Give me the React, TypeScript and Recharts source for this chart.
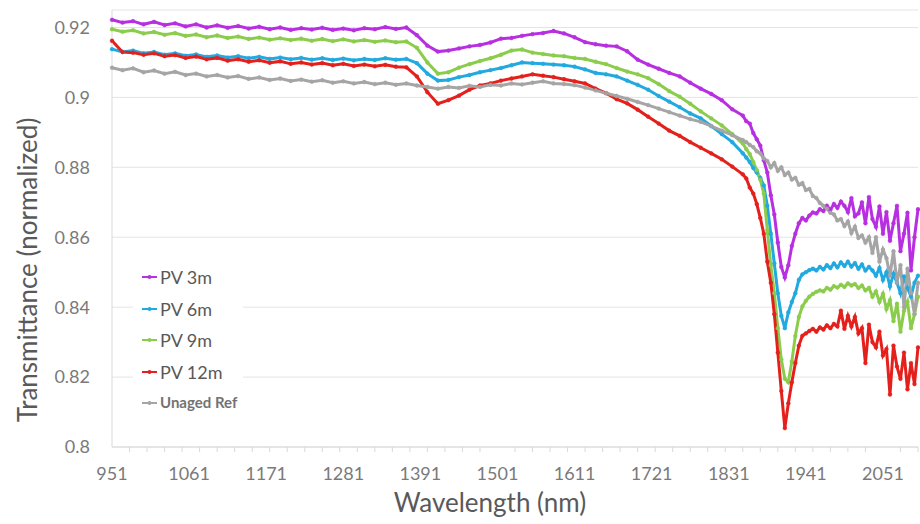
import React from 'react'
import { LineChart, Line, XAxis, YAxis, CartesianGrid } from 'recharts'

/* wavelength grid (nm): 15 nm steps on the flat part, 5 nm through the water band */
const WAVELENGTHS = [
  951, 966, 981, 996, 1011, 1026, 1041, 1056, 1071, 1086, 1101, 1116, 1131, 1146, 1161, 1176,
  1191, 1206, 1221, 1236, 1251, 1266, 1281, 1296, 1311, 1326, 1341, 1356, 1371, 1386, 1401, 1416,
  1431, 1446, 1461, 1476, 1491, 1506, 1521, 1536, 1551, 1566, 1581, 1596, 1611, 1626, 1641, 1656,
  1671, 1686, 1701, 1716, 1731, 1746, 1761, 1776, 1791, 1806, 1821, 1836, 1851,
  1856, 1861, 1866, 1871, 1876, 1881, 1886, 1891, 1896, 1901, 1906, 1911, 1916, 1921, 1926, 1931,
  1936, 1941, 1946, 1951, 1956, 1961, 1966, 1971, 1976, 1981, 1986, 1991, 1996, 2001, 2006, 2011,
  2016, 2021, 2026, 2031, 2036, 2041, 2046, 2051, 2056, 2061, 2066, 2071, 2076, 2081, 2086, 2091,
  2096, 2101,
]

const PV_3M = [
  0.9222, 0.9214, 0.9218, 0.9209, 0.9216, 0.9207, 0.9212, 0.9203, 0.9209, 0.92, 0.9206, 0.9199, 0.9204, 0.9197, 0.9202, 0.9195,
  0.92, 0.9193, 0.9198, 0.9194, 0.9199, 0.9193, 0.9197, 0.9192, 0.9198, 0.9195, 0.9201, 0.9196, 0.92, 0.9178, 0.9148, 0.9131,
  0.9134, 0.914, 0.9146, 0.915, 0.9157, 0.9168, 0.917, 0.9176, 0.9181, 0.9184, 0.919, 0.9183, 0.9172, 0.9158, 0.9152, 0.9148,
  0.9146, 0.9132, 0.9108, 0.9094, 0.9082, 0.907, 0.906, 0.9042, 0.9025, 0.901, 0.8992, 0.8966, 0.8948,
  0.8932, 0.8925, 0.8898, 0.888, 0.8862, 0.882, 0.8785, 0.872, 0.8665, 0.8585, 0.8515, 0.8485, 0.852, 0.8575, 0.861, 0.864,
  0.8655, 0.8648, 0.8662, 0.8671, 0.8668, 0.868, 0.8675, 0.869, 0.8678, 0.8695, 0.8684, 0.8702, 0.869, 0.8672, 0.8712, 0.866,
  0.8668, 0.87, 0.864, 0.8715, 0.8652, 0.863, 0.8688, 0.861, 0.8672, 0.859, 0.864, 0.869, 0.856, 0.861, 0.867, 0.8505,
  0.86, 0.868,
]

const PV_6M = [
  0.9138, 0.913, 0.9134, 0.9126, 0.913, 0.9122, 0.9126, 0.9119, 0.9123, 0.9116, 0.912, 0.9114, 0.9118, 0.9112, 0.9116, 0.911,
  0.9114, 0.9109, 0.9113, 0.9108, 0.9112, 0.9107, 0.9111, 0.9106, 0.911, 0.9107, 0.9112, 0.9108, 0.911, 0.9098, 0.9068, 0.9048,
  0.905, 0.9058, 0.9064, 0.9072, 0.9078, 0.9084, 0.9092, 0.91, 0.9098, 0.9096, 0.9094, 0.9092, 0.9088, 0.908, 0.907, 0.9066,
  0.906, 0.9048, 0.9036, 0.9022, 0.9004, 0.8988, 0.8972, 0.8954, 0.894, 0.8918, 0.8895, 0.8872, 0.884,
  0.8828, 0.8815, 0.8798, 0.8785, 0.877, 0.8748, 0.869, 0.861, 0.8525, 0.844, 0.8375, 0.834, 0.8385, 0.8415, 0.844, 0.8478,
  0.8494, 0.85, 0.8506, 0.851, 0.8505, 0.8515, 0.8508, 0.852, 0.8512, 0.8525, 0.8514, 0.8528, 0.8518, 0.853, 0.8516, 0.8526,
  0.851, 0.8522, 0.8505, 0.8515, 0.8505, 0.849, 0.8512, 0.8478, 0.85, 0.846, 0.8495, 0.847, 0.844, 0.8488, 0.8455, 0.843,
  0.847, 0.849,
]

const PV_9M = [
  0.9195, 0.9188, 0.9192, 0.9183, 0.9187, 0.9179, 0.9184, 0.9176, 0.918, 0.9172, 0.9177, 0.917, 0.9174, 0.9167, 0.9171, 0.9165,
  0.9169, 0.9164, 0.9168, 0.9162, 0.9167, 0.9161, 0.9166, 0.916, 0.9164, 0.9159, 0.9163, 0.9158, 0.916, 0.9142, 0.91, 0.9068,
  0.9072, 0.9085, 0.9095, 0.9104, 0.9112, 0.9122, 0.9134, 0.9137, 0.9128, 0.9124, 0.912, 0.9118, 0.9113, 0.911, 0.9102, 0.9095,
  0.9084, 0.9074, 0.9066, 0.9055, 0.9038, 0.9018, 0.9002, 0.8982, 0.896, 0.894, 0.892, 0.8895, 0.8868,
  0.8852, 0.8838, 0.8815, 0.8792, 0.8765, 0.8725, 0.862, 0.852, 0.844, 0.834, 0.825, 0.8195, 0.8185, 0.8245, 0.8318, 0.8372,
  0.8402, 0.8418, 0.843, 0.8438, 0.8444, 0.8448, 0.8445, 0.8455, 0.845, 0.846, 0.8456, 0.8464, 0.8458, 0.8468, 0.8462, 0.8466,
  0.8455, 0.8462, 0.8448, 0.8455, 0.843, 0.8445, 0.8415, 0.8438, 0.8395, 0.842, 0.836, 0.841, 0.833, 0.839, 0.8415, 0.834,
  0.838, 0.843,
]

const PV_12M = [
  0.9162, 0.913, 0.9128, 0.9122, 0.9126, 0.9118, 0.9121, 0.9113, 0.9117, 0.9109, 0.9113, 0.9105, 0.9109, 0.9102, 0.9106, 0.9099,
  0.9103, 0.9096, 0.91, 0.9094, 0.9098, 0.9092, 0.9096, 0.909, 0.9094, 0.9089, 0.9093, 0.9088, 0.9086, 0.906, 0.9015, 0.8982,
  0.8992, 0.9005, 0.9022, 0.9034, 0.904, 0.9048, 0.9054, 0.906, 0.9066, 0.9062, 0.9058, 0.9052, 0.9046, 0.904, 0.9025, 0.9012,
  0.8995, 0.8983, 0.8965, 0.8945, 0.8925, 0.8905, 0.889, 0.8872, 0.8856, 0.884, 0.8823, 0.8802, 0.878,
  0.8768, 0.8742, 0.8725, 0.8695, 0.8655, 0.861, 0.853, 0.847, 0.838, 0.827, 0.816, 0.8054, 0.8125, 0.8185, 0.824, 0.829,
  0.8318, 0.8325, 0.8332, 0.8338, 0.833, 0.8342, 0.8336, 0.8348, 0.834, 0.8352, 0.8345, 0.839, 0.8338, 0.8375, 0.8345, 0.8372,
  0.8325, 0.834, 0.824, 0.835, 0.83, 0.8285, 0.833, 0.8262, 0.828, 0.815, 0.829, 0.823, 0.8195, 0.827, 0.8165, 0.824,
  0.818, 0.8285,
]

const UNAGED_REF = [
  0.9085, 0.9078, 0.9083, 0.9072, 0.9077, 0.9068, 0.9073, 0.9064, 0.9068, 0.906, 0.9064, 0.9057, 0.9061, 0.9053, 0.9057, 0.905,
  0.9054, 0.9047, 0.9051, 0.9045, 0.9049, 0.9042, 0.9046, 0.904, 0.9044, 0.9038, 0.9042, 0.9036, 0.904, 0.9034, 0.903, 0.9025,
  0.903, 0.9027, 0.9033, 0.903, 0.9036, 0.9034, 0.904, 0.9037, 0.9042, 0.9046, 0.904, 0.9038, 0.9035, 0.9028, 0.902, 0.9012,
  0.9004, 0.8996, 0.8987, 0.8978, 0.8968, 0.8958, 0.8948, 0.8938, 0.893, 0.8918, 0.8905, 0.8892, 0.8878,
  0.8872, 0.8864, 0.8858, 0.8846, 0.884, 0.8825, 0.8818, 0.88, 0.8812, 0.879, 0.88, 0.8778, 0.8785, 0.8765, 0.877, 0.875,
  0.8755, 0.8735, 0.8738, 0.8718, 0.8712, 0.8698, 0.869, 0.8682, 0.867, 0.8665, 0.8648, 0.8652, 0.8632, 0.8645, 0.8612, 0.863,
  0.8598, 0.8605, 0.8585, 0.86, 0.8555, 0.86, 0.853, 0.8565, 0.854, 0.849, 0.856, 0.847, 0.852, 0.84, 0.851, 0.844,
  0.838, 0.847,
]

const SERIES = [
  { key: 'pv3', name: 'PV 3m', color: '#b72fe0', values: PV_3M },
  { key: 'pv6', name: 'PV 6m', color: '#22a9df', values: PV_6M },
  { key: 'pv9', name: 'PV 9m', color: '#8ccc4c', values: PV_9M },
  { key: 'pv12', name: 'PV 12m', color: '#e4201c', values: PV_12M },
  { key: 'ref', name: 'Unaged Ref', color: '#a5a5a5', values: UNAGED_REF },
]

const X_LABELS = [951, 1061, 1171, 1281, 1391, 1501, 1611, 1721, 1831, 1941, 2051]
const Y_TICKS = [0.8, 0.82, 0.84, 0.86, 0.88, 0.9, 0.92]

// minor tick marks every 25 nm (Excel tick-mark interval), labels every 110 nm
const X_MINOR = Array.from({ length: 47 }, (_, i) => 951 + 25 * i)
const X_TICKS = Array.from(new Set([...X_MINOR, ...X_LABELS])).sort((a, b) => a - b)

const data = WAVELENGTHS.map((w, i) => {
  const row: Record<string, number> = { w }
  SERIES.forEach(s => { row[s.key] = s.values[i] })
  return row
})

const FONT = 'Lato, "Open Sans", sans-serif'
const AXIS_GRAY = '#d9d9d9'
const TICK_TEXT = '#7a7a7a'
const TITLE_TEXT = '#595959'

function XTick(props: any) {
  const { x, y, payload } = props
  const v = payload.value
  if (X_LABELS.includes(v)) {
    return (
      <text x={x} y={y + 33} textAnchor="middle" fontSize={18} fill={TICK_TEXT} fontFamily={FONT}>
        {v}
      </text>
    )
  }
  return <line x1={x} x2={x} y1={y} y2={y + 5} stroke={AXIS_GRAY} strokeWidth={1} />
}

export default function App() {
  return (
    <div style={{ position: 'absolute', left: 0, top: 0, width: 920, height: 524, background: '#fff', fontFamily: FONT }}>
      <LineChart width={920} height={524} data={data} margin={{ top: 10, right: 2, left: 0, bottom: 0 }}>
        <CartesianGrid vertical={false} stroke="#e4e4e4" />
        <XAxis
          dataKey="w"
          type="number"
          domain={[951, 2101]}
          ticks={X_TICKS}
          interval={0}
          height={77}
          tickSize={0}
          tickMargin={0}
          tickLine={false}
          axisLine={{ stroke: AXIS_GRAY }}
          tick={<XTick />}
        />
        <YAxis
          type="number"
          domain={[0.8, 0.925]}
          ticks={Y_TICKS}
          width={112}
          tickSize={0}
          tickMargin={22}
          tickLine={false}
          axisLine={{ stroke: AXIS_GRAY }}
          tick={{ fontSize: 18, fill: TICK_TEXT, fontFamily: FONT }}
          allowDataOverflow
        />
        {SERIES.map(s => (
          <Line
            key={s.key}
            dataKey={s.key}
            name={s.name}
            stroke={s.color}
            strokeWidth={3}
            dot={{ r: 1.9, fill: s.color, stroke: s.color, strokeWidth: 0.5 }}
            type="linear"
            isAnimationActive={false}
          />
        ))}
      </LineChart>

      <svg width={920} height={524} style={{ position: 'absolute', left: 0, top: 0, pointerEvents: 'none' }}>
        <text x={490} y={512} textAnchor="middle" fontSize={26} fill={TITLE_TEXT} fontFamily={FONT}>
          Wavelength (nm)
        </text>
        <text transform="translate(37,270) rotate(-90)" textAnchor="middle" fontSize={26} fill={TITLE_TEXT} fontFamily={FONT}>
          Transmittance (normalized)
        </text>

        {/* legend */}
        <rect x={133} y={252} width={110} height={165} fill="#fff" />
        {SERIES.map((s, i) => {
          const cy = [277, 309, 340, 372, 403][i]
          const last = i === SERIES.length - 1
          return (
            <g key={s.key}>
              <line x1={142} x2={157} y1={cy} y2={cy} stroke={s.color} strokeWidth={2} />
              <circle cx={149.5} cy={cy} r={2} fill={s.color} />
              <text
                x={160}
                y={cy + (last ? 5 : 6.5)}
                fontSize={last ? 15 : 18}
                fontWeight={last ? 700 : 400}
                fill={last ? '#737373' : TITLE_TEXT}
                fontFamily={FONT}
              >
                {s.name}
              </text>
            </g>
          )
        })}
      </svg>
    </div>
  )
}
